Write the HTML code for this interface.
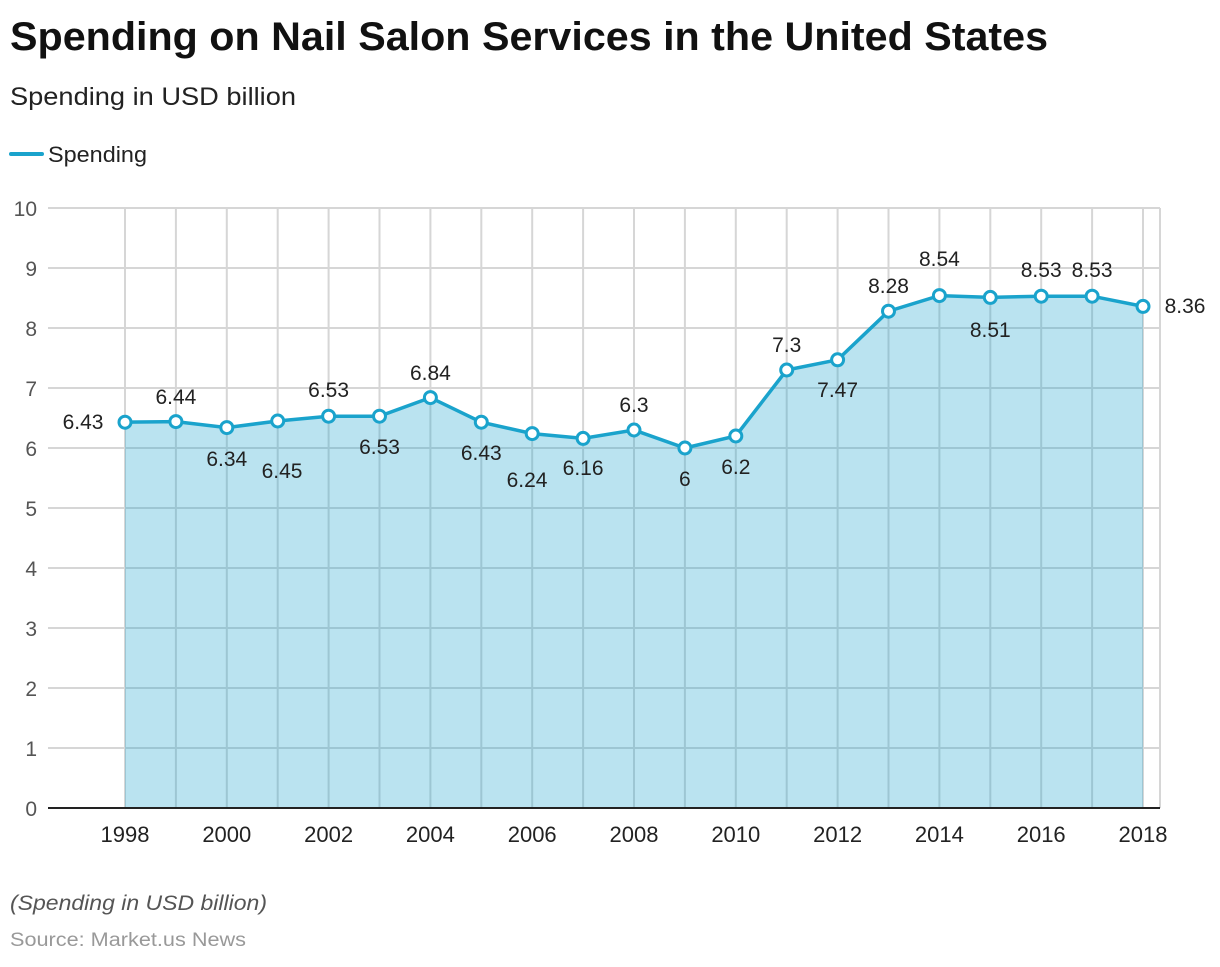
<!DOCTYPE html><html><head><meta charset="utf-8"><style>body{margin:0;background:#fff;font-family:"Liberation Sans",sans-serif}</style></head><body>
<svg width="1220" height="962" xmlns="http://www.w3.org/2000/svg" font-family="Liberation Sans, sans-serif">
<text x="10" y="50" font-size="40" font-weight="bold" fill="#111" textLength="1038" lengthAdjust="spacingAndGlyphs">Spending on Nail Salon Services in the United States</text>
<text x="10" y="105" font-size="25" fill="#222" textLength="286" lengthAdjust="spacingAndGlyphs">Spending in USD billion</text>
<line x1="11" y1="154" x2="42" y2="154" stroke="#1aa3cc" stroke-width="4" stroke-linecap="round"/>
<text x="48" y="162" font-size="22" fill="#222" textLength="99" lengthAdjust="spacingAndGlyphs">Spending</text>
<g stroke="#d6d6d6" stroke-width="2">
<line x1="48" y1="208" x2="1160" y2="208"/><line x1="48" y1="268" x2="1160" y2="268"/><line x1="48" y1="328" x2="1160" y2="328"/><line x1="48" y1="388" x2="1160" y2="388"/><line x1="48" y1="448" x2="1160" y2="448"/><line x1="48" y1="508" x2="1160" y2="508"/><line x1="48" y1="568" x2="1160" y2="568"/><line x1="48" y1="628" x2="1160" y2="628"/><line x1="48" y1="688" x2="1160" y2="688"/><line x1="48" y1="748" x2="1160" y2="748"/>
<path d="M125 208V808M175.9 208V808M226.8 208V808M277.7 208V808M328.6 208V808M379.5 208V808M430.4 208V808M481.3 208V808M532.2 208V808M583.1 208V808M634 208V808M684.9 208V808M735.8 208V808M786.7 208V808M837.6 208V808M888.5 208V808M939.4 208V808M990.3 208V808M1041.2 208V808M1092.1 208V808M1143 208V808M1160 208V808"/>
</g>
<path d="M125 422.2L175.9 421.6L226.8 427.6L277.7 421L328.6 416.2L379.5 416.2L430.4 397.6L481.3 422.2L532.2 433.6L583.1 438.4L634 430L684.9 448L735.8 436L786.7 370L837.6 359.8L888.5 311.2L939.4 295.6L990.3 297.4L1041.2 296.2L1092.1 296.2L1143 306.4V808H125Z" fill="#1aa3cc" fill-opacity="0.3"/>
<line x1="48" y1="808" x2="1160" y2="808" stroke="#222" stroke-width="2"/>
<path d="M125 422.2L175.9 421.6L226.8 427.6L277.7 421L328.6 416.2L379.5 416.2L430.4 397.6L481.3 422.2L532.2 433.6L583.1 438.4L634 430L684.9 448L735.8 436L786.7 370L837.6 359.8L888.5 311.2L939.4 295.6L990.3 297.4L1041.2 296.2L1092.1 296.2L1143 306.4" fill="none" stroke="#1aa3cc" stroke-width="3.5"/>
<g fill="#fff" stroke="#1aa3cc" stroke-width="3">
<circle cx="125" cy="422.2" r="6"/><circle cx="175.9" cy="421.6" r="6"/><circle cx="226.8" cy="427.6" r="6"/><circle cx="277.7" cy="421" r="6"/><circle cx="328.6" cy="416.2" r="6"/><circle cx="379.5" cy="416.2" r="6"/><circle cx="430.4" cy="397.6" r="6"/><circle cx="481.3" cy="422.2" r="6"/><circle cx="532.2" cy="433.6" r="6"/><circle cx="583.1" cy="438.4" r="6"/><circle cx="634" cy="430" r="6"/><circle cx="684.9" cy="448" r="6"/><circle cx="735.8" cy="436" r="6"/><circle cx="786.7" cy="370" r="6"/><circle cx="837.6" cy="359.8" r="6"/><circle cx="888.5" cy="311.2" r="6"/><circle cx="939.4" cy="295.6" r="6"/><circle cx="990.3" cy="297.4" r="6"/><circle cx="1041.2" cy="296.2" r="6"/><circle cx="1092.1" cy="296.2" r="6"/><circle cx="1143" cy="306.4" r="6"/>
</g>
<g font-size="21" fill="#222" text-anchor="middle">
<text x="83" y="429">6.43</text><text x="175.9" y="404">6.44</text><text x="226.8" y="466">6.34</text><text x="282" y="478">6.45</text><text x="328.6" y="397">6.53</text><text x="379.5" y="454">6.53</text><text x="430.4" y="380">6.84</text><text x="481.3" y="460">6.43</text><text x="527" y="487">6.24</text><text x="583.1" y="475">6.16</text><text x="634" y="412">6.3</text><text x="684.9" y="486">6</text><text x="735.8" y="474">6.2</text><text x="786.7" y="352">7.3</text><text x="837.6" y="397">7.47</text><text x="888.5" y="293">8.28</text><text x="939.4" y="266">8.54</text><text x="990.3" y="337">8.51</text><text x="1041.2" y="277">8.53</text><text x="1092.1" y="277">8.53</text><text x="1185" y="313">8.36</text>
</g>
<g font-size="21" fill="#555" text-anchor="end">
<text x="37" y="216">10</text><text x="37" y="276">9</text><text x="37" y="336">8</text><text x="37" y="396">7</text><text x="37" y="456">6</text><text x="37" y="516">5</text><text x="37" y="576">4</text><text x="37" y="636">3</text><text x="37" y="696">2</text><text x="37" y="756">1</text><text x="37" y="816">0</text>
</g>
<g font-size="22" fill="#222" text-anchor="middle">
<text x="125" y="842">1998</text><text x="226.8" y="842">2000</text><text x="328.6" y="842">2002</text><text x="430.4" y="842">2004</text><text x="532.2" y="842">2006</text><text x="634" y="842">2008</text><text x="735.8" y="842">2010</text><text x="837.6" y="842">2012</text><text x="939.4" y="842">2014</text><text x="1041.2" y="842">2016</text><text x="1143" y="842">2018</text>
</g>
<text x="10" y="910" font-size="21" font-style="italic" fill="#555" textLength="257" lengthAdjust="spacingAndGlyphs">(Spending in USD billion)</text>
<text x="10" y="946" font-size="19" fill="#999" textLength="236" lengthAdjust="spacingAndGlyphs">Source: Market.us News</text>
</svg></body></html>
